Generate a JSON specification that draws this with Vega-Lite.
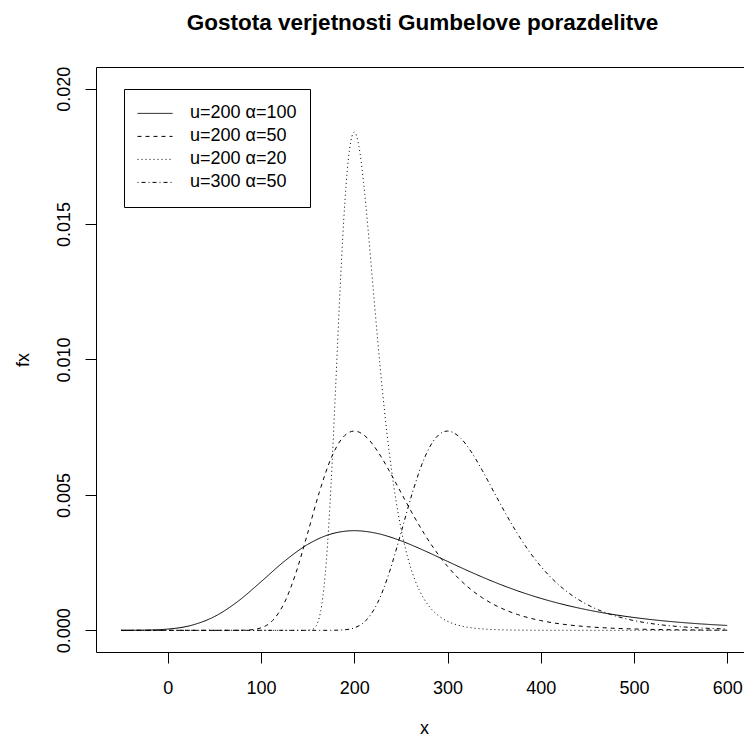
{
  "$schema": "https://vega.github.io/schema/vega-lite/v6.json",
  "width": 648,
  "height": 585,
  "autosize": {"type": "none"},
  "padding": {"left": 96, "top": 67, "right": 0, "bottom": 85},
  "background": "white",
  "title": {
    "text": "Gostota verjetnosti Gumbelove porazdelitve",
    "font": "Liberation Sans",
    "fontSize": 22.5,
    "fontWeight": "bold",
    "color": "black",
    "anchor": "middle",
    "frame": "group",
    "baseline": "alphabetic",
    "offset": 14,
    "dx": 2.5
  },
  "data": {
    "values": [
      {"curve": "u=200 α=100", "x": -50, "fx": 0.000000624},
      {"curve": "u=200 α=100", "x": -25, "fx": 0.00000719},
      {"curve": "u=200 α=100", "x": 0, "fx": 0.00004566},
      {"curve": "u=200 α=100", "x": 25, "fx": 0.00018232},
      {"curve": "u=200 α=100", "x": 50, "fx": 0.00050705},
      {"curve": "u=200 α=100", "x": 75, "fx": 0.0010642},
      {"curve": "u=200 α=100", "x": 100, "fx": 0.0017937},
      {"curve": "u=200 α=100", "x": 125, "fx": 0.0025487},
      {"curve": "u=200 α=100", "x": 150, "fx": 0.0031704},
      {"curve": "u=200 α=100", "x": 175, "fx": 0.0035557},
      {"curve": "u=200 α=100", "x": 200, "fx": 0.0036788},
      {"curve": "u=200 α=100", "x": 225, "fx": 0.0035744},
      {"curve": "u=200 α=100", "x": 250, "fx": 0.003307},
      {"curve": "u=200 α=100", "x": 275, "fx": 0.0029452},
      {"curve": "u=200 α=100", "x": 300, "fx": 0.0025465},
      {"curve": "u=200 α=100", "x": 325, "fx": 0.0021512},
      {"curve": "u=200 α=100", "x": 350, "fx": 0.001785},
      {"curve": "u=200 α=100", "x": 375, "fx": 0.0014603},
      {"curve": "u=200 α=100", "x": 400, "fx": 0.0011821},
      {"curve": "u=200 α=100", "x": 425, "fx": 0.0009485},
      {"curve": "u=200 α=100", "x": 450, "fx": 0.0007562},
      {"curve": "u=200 α=100", "x": 475, "fx": 0.0005997},
      {"curve": "u=200 α=100", "x": 500, "fx": 0.0004737},
      {"curve": "u=200 α=100", "x": 525, "fx": 0.000373},
      {"curve": "u=200 α=100", "x": 550, "fx": 0.000293},
      {"curve": "u=200 α=100", "x": 575, "fx": 0.0002297},
      {"curve": "u=200 α=100", "x": 600, "fx": 0.0001798},

      {"curve": "u=200 α=50", "x": -50, "fx": 0},
      {"curve": "u=200 α=50", "x": 50, "fx": 0},
      {"curve": "u=200 α=50", "x": 62.5, "fx": 0.00000005},
      {"curve": "u=200 α=50", "x": 75, "fx": 0.000001248},
      {"curve": "u=200 α=50", "x": 87.5, "fx": 0.00001438},
      {"curve": "u=200 α=50", "x": 100, "fx": 0.00009132},
      {"curve": "u=200 α=50", "x": 112.5, "fx": 0.00036464},
      {"curve": "u=200 α=50", "x": 125, "fx": 0.0010141},
      {"curve": "u=200 α=50", "x": 137.5, "fx": 0.0021284},
      {"curve": "u=200 α=50", "x": 150, "fx": 0.0035874},
      {"curve": "u=200 α=50", "x": 162.5, "fx": 0.0050974},
      {"curve": "u=200 α=50", "x": 175, "fx": 0.0063408},
      {"curve": "u=200 α=50", "x": 187.5, "fx": 0.0071114},
      {"curve": "u=200 α=50", "x": 200, "fx": 0.0073576},
      {"curve": "u=200 α=50", "x": 212.5, "fx": 0.0071488},
      {"curve": "u=200 α=50", "x": 225, "fx": 0.006614},
      {"curve": "u=200 α=50", "x": 237.5, "fx": 0.0058904},
      {"curve": "u=200 α=50", "x": 250, "fx": 0.005093},
      {"curve": "u=200 α=50", "x": 262.5, "fx": 0.0043024},
      {"curve": "u=200 α=50", "x": 275, "fx": 0.00357},
      {"curve": "u=200 α=50", "x": 287.5, "fx": 0.0029206},
      {"curve": "u=200 α=50", "x": 300, "fx": 0.0023642},
      {"curve": "u=200 α=50", "x": 312.5, "fx": 0.001897},
      {"curve": "u=200 α=50", "x": 325, "fx": 0.0015124},
      {"curve": "u=200 α=50", "x": 337.5, "fx": 0.0011994},
      {"curve": "u=200 α=50", "x": 350, "fx": 0.0009474},
      {"curve": "u=200 α=50", "x": 362.5, "fx": 0.000746},
      {"curve": "u=200 α=50", "x": 375, "fx": 0.000586},
      {"curve": "u=200 α=50", "x": 387.5, "fx": 0.0004594},
      {"curve": "u=200 α=50", "x": 400, "fx": 0.0003597},
      {"curve": "u=200 α=50", "x": 412.5, "fx": 0.0002812},
      {"curve": "u=200 α=50", "x": 425, "fx": 0.0002197},
      {"curve": "u=200 α=50", "x": 437.5, "fx": 0.0001715},
      {"curve": "u=200 α=50", "x": 450, "fx": 0.0001339},
      {"curve": "u=200 α=50", "x": 475, "fx": 0.0000814},
      {"curve": "u=200 α=50", "x": 500, "fx": 0.0000495},
      {"curve": "u=200 α=50", "x": 525, "fx": 0.00003},
      {"curve": "u=200 α=50", "x": 550, "fx": 0.0000182},
      {"curve": "u=200 α=50", "x": 575, "fx": 0.0000111},
      {"curve": "u=200 α=50", "x": 600, "fx": 0.0000067},

      {"curve": "u=200 α=20", "x": -50, "fx": 0},
      {"curve": "u=200 α=20", "x": 140, "fx": 0},
      {"curve": "u=200 α=20", "x": 145, "fx": 0.000000125},
      {"curve": "u=200 α=20", "x": 150, "fx": 0.00000312},
      {"curve": "u=200 α=20", "x": 155, "fx": 0.00003595},
      {"curve": "u=200 α=20", "x": 160, "fx": 0.0002283},
      {"curve": "u=200 α=20", "x": 165, "fx": 0.0009116},
      {"curve": "u=200 α=20", "x": 170, "fx": 0.0025353},
      {"curve": "u=200 α=20", "x": 175, "fx": 0.005321},
      {"curve": "u=200 α=20", "x": 180, "fx": 0.0089685},
      {"curve": "u=200 α=20", "x": 185, "fx": 0.0127435},
      {"curve": "u=200 α=20", "x": 190, "fx": 0.015852},
      {"curve": "u=200 α=20", "x": 195, "fx": 0.0177785},
      {"curve": "u=200 α=20", "x": 200, "fx": 0.018394},
      {"curve": "u=200 α=20", "x": 205, "fx": 0.017872},
      {"curve": "u=200 α=20", "x": 210, "fx": 0.016535},
      {"curve": "u=200 α=20", "x": 215, "fx": 0.014726},
      {"curve": "u=200 α=20", "x": 220, "fx": 0.0127325},
      {"curve": "u=200 α=20", "x": 225, "fx": 0.010756},
      {"curve": "u=200 α=20", "x": 230, "fx": 0.008925},
      {"curve": "u=200 α=20", "x": 235, "fx": 0.0073015},
      {"curve": "u=200 α=20", "x": 240, "fx": 0.0059105},
      {"curve": "u=200 α=20", "x": 245, "fx": 0.0047425},
      {"curve": "u=200 α=20", "x": 250, "fx": 0.003781},
      {"curve": "u=200 α=20", "x": 255, "fx": 0.0029985},
      {"curve": "u=200 α=20", "x": 260, "fx": 0.0023685},
      {"curve": "u=200 α=20", "x": 265, "fx": 0.001865},
      {"curve": "u=200 α=20", "x": 270, "fx": 0.001465},
      {"curve": "u=200 α=20", "x": 275, "fx": 0.0011486},
      {"curve": "u=200 α=20", "x": 280, "fx": 0.0008992},
      {"curve": "u=200 α=20", "x": 285, "fx": 0.0007031},
      {"curve": "u=200 α=20", "x": 290, "fx": 0.0005493},
      {"curve": "u=200 α=20", "x": 295, "fx": 0.0004289},
      {"curve": "u=200 α=20", "x": 300, "fx": 0.0003346},
      {"curve": "u=200 α=20", "x": 310, "fx": 0.0002035},
      {"curve": "u=200 α=20", "x": 320, "fx": 0.0001236},
      {"curve": "u=200 α=20", "x": 330, "fx": 0.0000751},
      {"curve": "u=200 α=20", "x": 340, "fx": 0.0000456},
      {"curve": "u=200 α=20", "x": 350, "fx": 0.0000276},
      {"curve": "u=200 α=20", "x": 360, "fx": 0.0000168},
      {"curve": "u=200 α=20", "x": 380, "fx": 0.0000062},
      {"curve": "u=200 α=20", "x": 400, "fx": 0.0000023},
      {"curve": "u=200 α=20", "x": 450, "fx": 0.0000002},
      {"curve": "u=200 α=20", "x": 500, "fx": 0},
      {"curve": "u=200 α=20", "x": 600, "fx": 0},

      {"curve": "u=300 α=50", "x": -50, "fx": 0},
      {"curve": "u=300 α=50", "x": 150, "fx": 0},
      {"curve": "u=300 α=50", "x": 162.5, "fx": 0.00000005},
      {"curve": "u=300 α=50", "x": 175, "fx": 0.000001248},
      {"curve": "u=300 α=50", "x": 187.5, "fx": 0.00001438},
      {"curve": "u=300 α=50", "x": 200, "fx": 0.00009132},
      {"curve": "u=300 α=50", "x": 212.5, "fx": 0.00036464},
      {"curve": "u=300 α=50", "x": 225, "fx": 0.0010141},
      {"curve": "u=300 α=50", "x": 237.5, "fx": 0.0021284},
      {"curve": "u=300 α=50", "x": 250, "fx": 0.0035874},
      {"curve": "u=300 α=50", "x": 262.5, "fx": 0.0050974},
      {"curve": "u=300 α=50", "x": 275, "fx": 0.0063408},
      {"curve": "u=300 α=50", "x": 287.5, "fx": 0.0071114},
      {"curve": "u=300 α=50", "x": 300, "fx": 0.0073576},
      {"curve": "u=300 α=50", "x": 312.5, "fx": 0.0071488},
      {"curve": "u=300 α=50", "x": 325, "fx": 0.006614},
      {"curve": "u=300 α=50", "x": 337.5, "fx": 0.0058904},
      {"curve": "u=300 α=50", "x": 350, "fx": 0.005093},
      {"curve": "u=300 α=50", "x": 362.5, "fx": 0.0043024},
      {"curve": "u=300 α=50", "x": 375, "fx": 0.00357},
      {"curve": "u=300 α=50", "x": 387.5, "fx": 0.0029206},
      {"curve": "u=300 α=50", "x": 400, "fx": 0.0023642},
      {"curve": "u=300 α=50", "x": 412.5, "fx": 0.001897},
      {"curve": "u=300 α=50", "x": 425, "fx": 0.0015124},
      {"curve": "u=300 α=50", "x": 437.5, "fx": 0.0011994},
      {"curve": "u=300 α=50", "x": 450, "fx": 0.0009474},
      {"curve": "u=300 α=50", "x": 462.5, "fx": 0.000746},
      {"curve": "u=300 α=50", "x": 475, "fx": 0.000586},
      {"curve": "u=300 α=50", "x": 487.5, "fx": 0.0004594},
      {"curve": "u=300 α=50", "x": 500, "fx": 0.0003597},
      {"curve": "u=300 α=50", "x": 512.5, "fx": 0.0002812},
      {"curve": "u=300 α=50", "x": 525, "fx": 0.0002197},
      {"curve": "u=300 α=50", "x": 537.5, "fx": 0.0001715},
      {"curve": "u=300 α=50", "x": 550, "fx": 0.0001339},
      {"curve": "u=300 α=50", "x": 562.5, "fx": 0.0001044},
      {"curve": "u=300 α=50", "x": 575, "fx": 0.0000814},
      {"curve": "u=300 α=50", "x": 587.5, "fx": 0.0000635},
      {"curve": "u=300 α=50", "x": 600, "fx": 0.0000495}
    ]
  },
  "layer": [
    {
      "mark": {"type": "line", "interpolate": "monotone", "strokeWidth": 1, "color": "black", "clip": true},
      "encoding": {
        "x": {
          "field": "x",
          "type": "quantitative",
          "scale": {"domain": [-77, 618], "nice": false, "zero": false},
          "axis": {
            "orient": "bottom",
            "values": [0, 100, 200, 300, 400, 500, 600],
            "format": "d",
            "labelBaseline": "alphabetic",
            "labelAlign": "center",
            "labelPadding": 30,
            "labelFlush": false,
            "labelOverlap": false,
            "title": "x",
            "titleX": 328,
            "titleY": 81,
            "titleAlign": "center",
            "titleBaseline": "alphabetic"
          }
        },
        "y": {
          "field": "fx",
          "type": "quantitative",
          "scale": {"domain": [-0.0008, 0.0208], "nice": false, "zero": false},
          "axis": {
            "values": [0, 0.005, 0.01, 0.015, 0.02],
            "format": ".3f",
            "labelAngle": 270,
            "labelAlign": "center",
            "labelBaseline": "alphabetic",
            "labelPadding": 15.5,
            "labelFlush": false,
            "labelOverlap": false,
            "title": "fx",
            "titleAngle": 270,
            "titleX": -68,
            "titleY": 292.5,
            "titleAlign": "center",
            "titleBaseline": "alphabetic"
          }
        },
        "strokeDash": {
          "field": "curve",
          "type": "nominal",
          "scale": {
            "domain": ["u=200 α=100", "u=200 α=50", "u=200 α=20", "u=300 α=50"],
            "range": [[1, 0], [4, 4], [1, 3], [1, 3, 4, 3]]
          },
          "legend": {
            "orient": "none",
            "legendX": 28,
            "legendY": 22,
            "title": null,
            "strokeColor": "black",
            "fillColor": "white",
            "padding": 13,
            "cornerRadius": 0,
            "symbolType": "stroke",
            "symbolSize": 1225,
            "symbolStrokeWidth": 1,
            "symbolStrokeColor": "black",
            "clipHeight": 22.8,
            "rowPadding": 0,
            "labelFont": "Liberation Sans",
            "labelFontSize": 18,
            "labelColor": "black",
            "labelOffset": 17,
            "labelLimit": 300
          }
        }
      }
    },
    {
      "mark": {"type": "rule", "opacity": 0},
      "encoding": {
        "x": {
          "field": "x",
          "type": "quantitative",
          "scale": {"domain": [-77, 618], "nice": false, "zero": false},
          "axis": {"orient": "top", "labels": false, "ticks": false, "grid": false, "title": null, "domain": true}
        }
      }
    }
  ],
  "resolve": {"axis": {"x": "independent"}},
  "config": {
    "view": {"stroke": null},
    "font": "Liberation Sans",
    "axis": {
      "domainColor": "black",
      "domainWidth": 1,
      "tickColor": "black",
      "tickWidth": 1,
      "tickSize": 11,
      "grid": false,
      "labelFont": "Liberation Sans",
      "labelFontSize": 18,
      "labelColor": "black",
      "titleFont": "Liberation Sans",
      "titleFontSize": 18,
      "titleFontWeight": "normal",
      "titleColor": "black"
    }
  }
}
